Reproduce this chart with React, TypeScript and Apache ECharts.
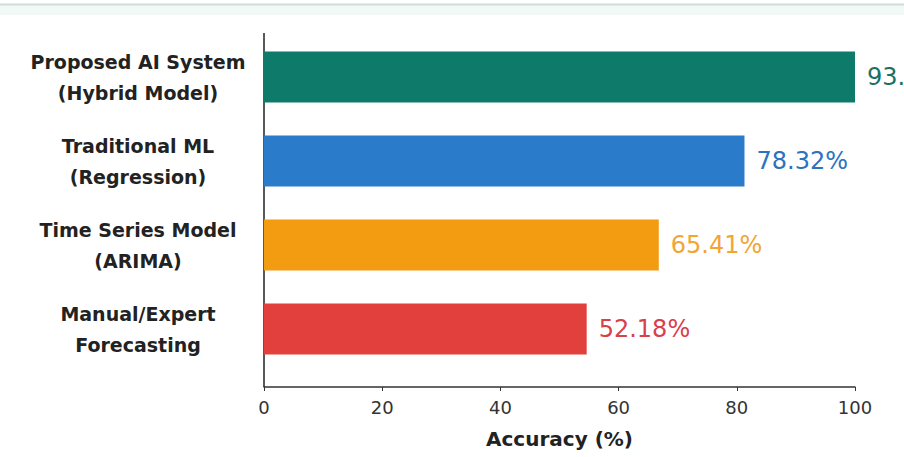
import React, { useEffect, useRef } from "react";
import * as echarts from "echarts";

const categories = [
  "Proposed AI System\n(Hybrid Model)",
  "Traditional ML\n(Regression)",
  "Time Series Model\n(ARIMA)",
  "Manual/Expert\nForecasting",
];
const barValues = [100, 81.3, 66.8, 54.6];
const valueLabels = ["93.45%", "78.32%", "65.41%", "52.18%"];
const barColors = ["#0e7a6a", "#2a7bc9", "#f39c12", "#e2403c"];
const labelColors = ["#1b6f63", "#2e72bd", "#f2a533", "#d8414a"];
const xTicks = [0, 20, 40, 60, 80, 100];

const FONT = "DejaVu Sans";

export default function App() {
  const ref = useRef<HTMLDivElement>(null);
  useEffect(() => {
    if (!ref.current) return;
    const chart = echarts.init(ref.current, null, { renderer: "svg" });
    chart.setOption({
      animation: false,
      backgroundColor: "#ffffff",
      textStyle: { fontFamily: FONT },
      grid: { left: 264, right: 49, top: 35, height: 336, containLabel: false },
      xAxis: {
        type: "value",
        min: xTicks[0],
        max: xTicks[xTicks.length - 1],
        interval: 20,
        offset: 16,
        name: "Accuracy (%)",
        nameLocation: "middle",
        nameGap: 42,
        nameTextStyle: { fontFamily: FONT, fontSize: 20, fontWeight: "bold", color: "#222" },
        axisLine: { show: true, lineStyle: { color: "#333", width: 1.5 } },
        axisTick: { show: true, length: 4, lineStyle: { color: "#333" } },
        axisLabel: { fontFamily: FONT, fontSize: 18, color: "#333", margin: 11 },
        splitLine: { show: false },
      },
      yAxis: {
        type: "category",
        inverse: true,
        data: categories,
        axisLine: { show: false },
        axisTick: { show: false },
        axisLabel: {
          fontFamily: FONT,
          fontSize: 19,
          fontWeight: "bold",
          color: "#222",
          align: "center",
          margin: 126,
          lineHeight: 31,
        },
      },
      graphic: [
        { type: "rect", shape: { x: 0, y: 5, width: 904, height: 10 }, style: { fill: "#f1f9f7" }, silent: true },
        { type: "line", shape: { x1: 0, y1: 4.5, x2: 904, y2: 4.5 }, style: { stroke: "#cfdcda", lineWidth: 2 }, silent: true },
        { type: "line", shape: { x1: 264, y1: 33, x2: 264, y2: 387 }, style: { stroke: "#222", lineWidth: 1.5 }, silent: true },
      ],
      series: [
        {
          type: "bar",
          barWidth: 51,
          data: barValues.map((v, i) => ({
            value: v,
            itemStyle: { color: barColors[i] },
            label: {
              show: true,
              position: "right",
              distance: 12,
              formatter: () => valueLabels[i],
              fontFamily: FONT,
              fontSize: 24,
              color: labelColors[i],
            },
          })),
        },
      ],
    });
    return () => chart.dispose();
  }, []);
  return (
    <div
      ref={ref}
      style={{ position: "absolute", left: 0, top: 0, width: 904, height: 457 }}
    />
  );
}
